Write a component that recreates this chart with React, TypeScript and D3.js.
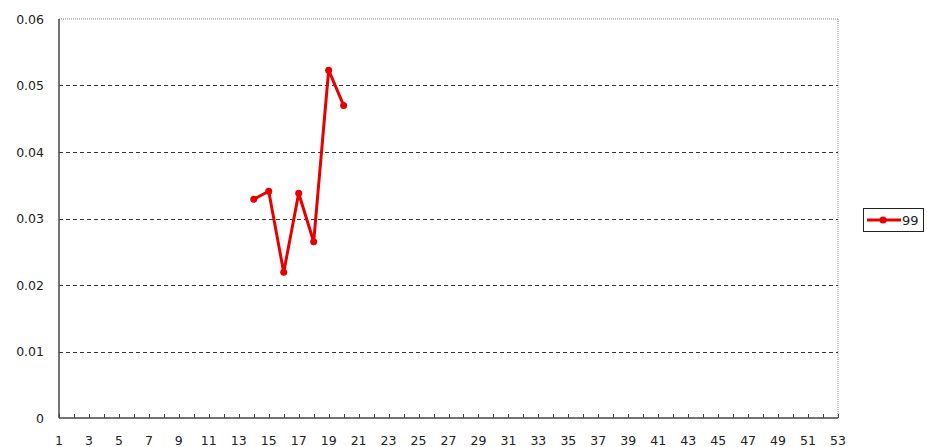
import * as d3 from 'd3'

const weeks = d3.range(1, 54)
const seriesName = '99'
const pointWeeks = [14, 15, 16, 17, 18, 19, 20]
const pointValues = [0.0329, 0.0341, 0.0219, 0.0338, 0.0265, 0.0523, 0.047]
const yTicks = [0, 0.01, 0.02, 0.03, 0.04, 0.05, 0.06]

const width = 927
const height = 447
const left = 59
const right = 838
const top = 19
const bottom = 418
const red = '#e60000'
const font = 'DejaVu Sans, Verdana, sans-serif'

const x = d3.scalePoint<number>().domain(weeks).range([left, right])
const y = d3.scaleLinear().domain([0, 0.06]).range([bottom, top])

const line = d3
  .line<number>()
  .x((_, i) => x(pointWeeks[i]) as number)
  .y((d) => y(d))

export default function App() {
  return (
    <svg
      width={width}
      height={height}
      style={{ position: 'absolute', left: 0, top: 0, background: '#fff' }}
    >
      {/* plot border, dotted on top and right */}
      <line x1={left} x2={right} y1={top} y2={top} stroke="#888" strokeDasharray="1 1" />
      <line x1={right} x2={right} y1={top} y2={bottom} stroke="#888" strokeDasharray="1 1" />

      {yTicks.map((t) => (
        <g key={t}>
          {t > 0 && t < 0.06 && (
            <line
              x1={left}
              x2={right}
              y1={Math.round(y(t)) + 0.5}
              y2={Math.round(y(t)) + 0.5}
              stroke="#333"
              strokeDasharray="4 3"
            />
          )}
          <text
            x={44}
            y={y(t)}
            textAnchor="end"
            dominantBaseline="central"
            fontFamily={font}
            fontSize={12.5}
            fill="#222"
          >
            {t === 0 ? '0' : t.toFixed(2)}
          </text>
        </g>
      ))}

      {/* axes */}
      <line x1={left} x2={left} y1={top} y2={bottom} stroke="#444" strokeWidth={1.5} />
      <line x1={left} x2={right} y1={bottom} y2={bottom} stroke="#444" strokeWidth={1.5} />
      {weeks.map((w) => (
        <g key={w}>
          <line
            x1={Math.round(x(w) as number) + 0.5}
            x2={Math.round(x(w) as number) + 0.5}
            y1={bottom}
            y2={bottom - 4}
            stroke="#444"
          />
          {w % 2 === 1 && (
            <text
              x={x(w)}
              y={440}
              textAnchor="middle"
              dominantBaseline="central"
              fontFamily={font}
              fontSize={12.5}
              fill="#222"
            >
              {w}
            </text>
          )}
        </g>
      ))}

      <path d={line(pointValues) ?? ''} fill="none" stroke={red} strokeWidth={3} strokeLinejoin="round" />
      {pointValues.map((v, i) => (
        <circle key={i} cx={x(pointWeeks[i])} cy={y(v)} r={3.5} fill={red} />
      ))}

      {/* legend */}
      <rect x={863.5} y={208.5} width={60} height={23} fill="#fff" stroke="#222" />
      <line x1={867} x2={901} y1={220} y2={220} stroke={red} strokeWidth={3} />
      <circle cx={883} cy={220} r={3.5} fill={red} />
      <text x={902} y={220} dominantBaseline="central" fontFamily={font} fontSize={13} fill="#222">
        {seriesName}
      </text>
    </svg>
  )
}
